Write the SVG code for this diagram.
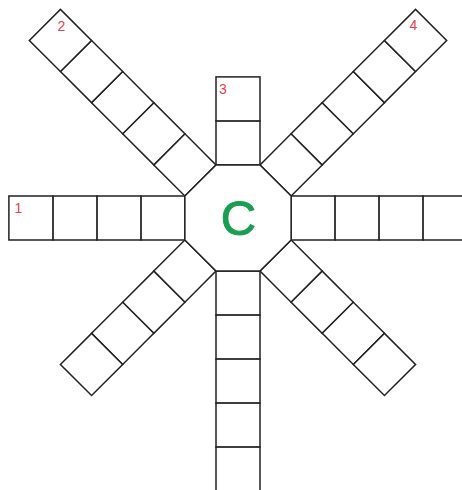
<svg xmlns="http://www.w3.org/2000/svg" width="462" height="490" viewBox="0 0 462 490">
  <style>
    .cell { fill: #ffffff; stroke: #222222; stroke-width: 1.5; }
    .num { font-family: "Liberation Sans", Arial, sans-serif; font-size: 14px; fill: #e5404e; text-anchor: middle; }
    .center { font-family: "Liberation Sans", Arial, sans-serif; font-size: 49px; fill: #1a9e52; stroke: #1a9e52; stroke-width: 1; text-anchor: middle; }
  </style>
  <defs>
    <rect id="sq" class="cell" x="-22" y="-44" width="44" height="44"/>
  </defs>
  <rect x="0" y="0" width="462" height="490" fill="#ffffff"/>
  <g id="arms" transform="translate(238,218)">
    <g id="arm-top" transform="rotate(0)">
      <use href="#sq" y="-53.11"/>
      <use href="#sq" y="-97.11"/>
    </g>
    <g id="arm-upper-right" transform="rotate(45)">
      <use href="#sq" y="-53.11"/>
      <use href="#sq" y="-97.11"/>
      <use href="#sq" y="-141.11"/>
      <use href="#sq" y="-185.11"/>
      <use href="#sq" y="-229.11"/>
    </g>
    <g id="arm-right" transform="rotate(90)">
      <use href="#sq" y="-53.11"/>
      <use href="#sq" y="-97.11"/>
      <use href="#sq" y="-141.11"/>
      <use href="#sq" y="-185.11"/>
    </g>
    <g id="arm-lower-right" transform="rotate(135)">
      <use href="#sq" y="-53.11"/>
      <use href="#sq" y="-97.11"/>
      <use href="#sq" y="-141.11"/>
      <use href="#sq" y="-185.11"/>
    </g>
    <g id="arm-bottom" transform="rotate(180)">
      <use href="#sq" y="-53.11"/>
      <use href="#sq" y="-97.11"/>
      <use href="#sq" y="-141.11"/>
      <use href="#sq" y="-185.11"/>
      <use href="#sq" y="-229.11"/>
    </g>
    <g id="arm-lower-left" transform="rotate(225)">
      <use href="#sq" y="-53.11"/>
      <use href="#sq" y="-97.11"/>
      <use href="#sq" y="-141.11"/>
      <use href="#sq" y="-185.11"/>
    </g>
    <g id="arm-left" transform="rotate(270)">
      <use href="#sq" y="-53.11"/>
      <use href="#sq" y="-97.11"/>
      <use href="#sq" y="-141.11"/>
      <use href="#sq" y="-185.11"/>
    </g>
    <g id="arm-upper-left" transform="rotate(315)">
      <use href="#sq" y="-53.11"/>
      <use href="#sq" y="-97.11"/>
      <use href="#sq" y="-141.11"/>
      <use href="#sq" y="-185.11"/>
      <use href="#sq" y="-229.11"/>
    </g>
  </g>
  <g id="hub">
    <polygon class="cell" transform="translate(238,218)" points="-22,-53.11 22,-53.11 53.11,-22 53.11,22 22,53.11 -22,53.11 -53.11,22 -53.11,-22"/>
    <text class="center" x="238.5" y="235">C</text>
  </g>
  <g id="labels">
    <text class="num" x="18.5" y="213">1</text>
    <text class="num" x="61.5" y="30.5">2</text>
    <text class="num" x="223" y="94">3</text>
    <text class="num" x="413.5" y="29.5">4</text>
  </g>
</svg>
